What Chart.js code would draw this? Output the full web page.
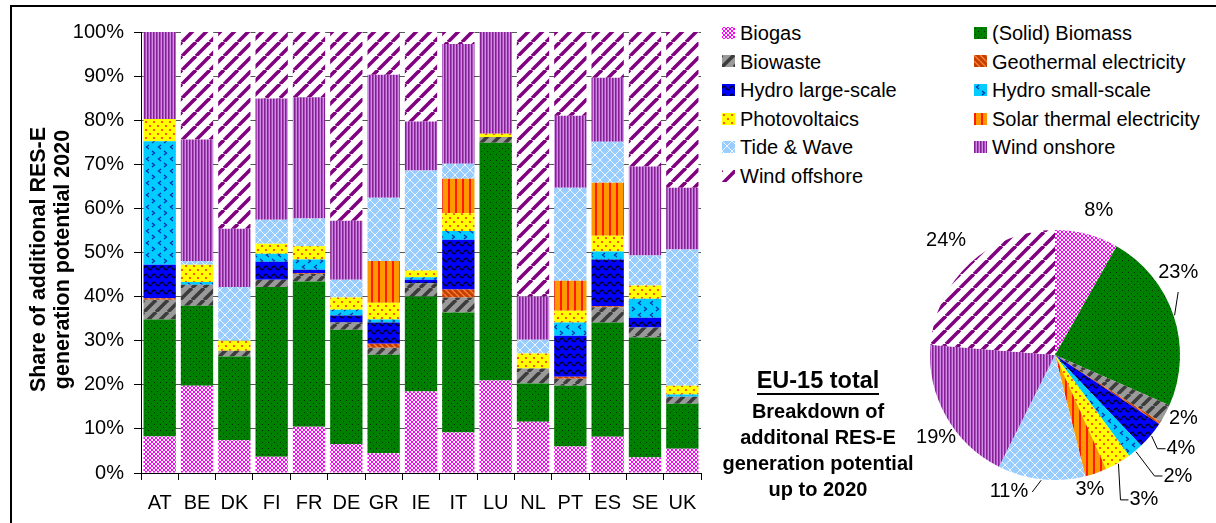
<!DOCTYPE html>
<html>
<head>
<meta charset="utf-8">
<script src="https://cdn.jsdelivr.net/npm/chart.js@4.4.1/dist/chart.umd.min.js"></script>
<style>
html,body{margin:0;padding:0;background:#fff;width:1216px;height:523px;overflow:hidden;font-family:"Liberation Sans",Arial,sans-serif;color:#000;}
#frame{position:absolute;left:10px;top:5px;width:1260px;height:560px;border:2px solid #000;box-sizing:border-box;}
#bar{position:absolute;left:0;top:0;}
#pie{position:absolute;left:890px;top:190px;}
.li{position:absolute;font-size:20px;line-height:22px;white-space:nowrap;}
.sw{position:absolute;}
#eu{position:absolute;left:688px;width:260px;top:367px;text-align:center;font-weight:bold;font-size:23.5px;line-height:26px;}
#eu span{display:inline-block;border-bottom:2px solid #000;}
#sub{position:absolute;left:688px;width:260px;top:398px;text-align:center;font-weight:bold;font-size:20px;line-height:26px;}
</style>
</head>
<body>
<div id="frame"></div>
<canvas id="bar" width="715" height="523"></canvas>
<div id="legend"></div>
<canvas id="pie" width="326" height="333"></canvas>
<div id="eu"></div>
<div id="sub"></div>
<script>
// ---------------- DATA ----------------
const countries = ['AT','BE','DK','FI','FR','DE','GR','IE','IT','LU','NL','PT','ES','SE','UK'];
const sources = ['Biogas','(Solid) Biomass','Biowaste','Geothermal electricity','Hydro large-scale','Hydro small-scale','Photovoltaics','Solar thermal electricity','Tide & Wave','Wind onshore','Wind offshore'];
const biogas       = [8.3,19.8,7.4,3.7,10.5,6.6,4.5,18.5,9.2,21.0,11.6,6.0,8.2,3.5,5.5];
const biomass      = [26.5,18.1,19.0,38.5,32.9,25.9,22.3,21.5,27.2,53.9,8.7,13.8,25.9,27.2,10.2];
const biowaste     = [4.5,4.8,1.3,1.6,1.7,1.6,1.6,3.0,3.4,1.3,3.4,1.6,3.5,2.3,1.6];
const geothermal   = [0.3,0,0,0,0.2,0,0.9,0,1.8,0,0,0.4,0.2,0,0];
const hydroLarge   = [7.6,0,0,4.1,0.8,1.6,4.8,0.8,11.3,0,0,9.3,10.6,2.2,0];
const hydroSmall   = [28.0,0.6,0,1.8,2.3,1.3,0.7,0.6,2.0,0,0,3.0,1.8,4.3,0.5];
const photovoltaics= [5.1,3.9,2.3,2.3,3.0,2.8,3.8,1.5,4.0,0.7,3.4,2.7,3.6,3.0,2.0];
const solarThermal = [0,0,0,0,0,0,9.5,0,7.8,0,0,6.8,12.0,0,0];
const tideWave     = [0,0.9,12.2,5.4,6.3,4.0,14.3,22.7,3.4,0,3.1,21.1,9.3,6.8,30.9];
const windOnshore  = [19.7,27.5,13.2,27.5,27.5,13.4,27.9,11.1,27.2,23.1,9.8,16.3,14.5,20.2,14.0];
const windOffshore = [0,24.4,44.6,15.1,14.8,42.8,9.7,20.3,2.7,0,60.0,19.0,10.4,30.5,35.3];
const eu15Total    = [8.2,23.4,2.4,0.3,3.6,2.0,3.4,2.8,11.3,18.9,23.7];
const yTicks = [0,10,20,30,40,50,60,70,80,90,100];
const yTitle = ['Share of additional RES-E','generation potential 2020'];
const boxTitle = 'EU-15 total';
const boxText = ['Breakdown of','additonal RES-E','generation potential','up to 2020'];

const seriesValues = [biogas,biomass,biowaste,geothermal,hydroLarge,hydroSmall,photovoltaics,solarThermal,tideWave,windOnshore,windOffshore];

// ---------------- STYLE ----------------
const FONT = '"Liberation Sans", Arial, sans-serif';
Chart.defaults.font.family = FONT;
Chart.defaults.color = '#000';

function tile(w,h,fn){const c=document.createElement('canvas');c.width=w;c.height=h;const g=c.getContext('2d');fn(g,w,h);return c;}
function slash(g,s){for(const o of [-s,0,s]){g.beginPath();g.moveTo(o,s);g.lineTo(o+s,0);g.stroke();}}
function backslash(g,s){for(const o of [-s,0,s]){g.beginPath();g.moveTo(o,0);g.lineTo(o+s,s);g.stroke();}}
const tiles = [
  // Biogas
  tile(4,4,g=>{g.fillStyle='#ff00ff';g.fillRect(0,0,4,4);g.fillStyle='#ffffff';for(let i=0;i<4;i++){g.fillRect(i,i,1,1);g.fillRect(3-i,i,1,1);}}),
  // Biomass
  tile(6,6,g=>{g.fillStyle='#008000';g.fillRect(0,0,6,6);g.fillStyle='#002a00';g.fillRect(1,1,1,1);g.fillRect(4,4,1,1);}),
  // Biowaste
  tile(12,12,g=>{g.fillStyle='#9a9a9a';g.fillRect(0,0,12,12);g.strokeStyle='#3c3c3c';g.lineWidth=3.5;slash(g,12);}),
  // Geothermal
  tile(6,6,g=>{g.fillStyle='#c04000';g.fillRect(0,0,6,6);g.strokeStyle='#ff7a33';g.lineWidth=1.5;backslash(g,6);}),
  // Hydro large
  tile(8,8,g=>{g.fillStyle='#0000ff';g.fillRect(0,0,8,8);g.strokeStyle='#000022';g.lineWidth=1.4;g.beginPath();for(let x=0;x<=8;x+=0.5){const y=4-1.8*Math.sin(2*Math.PI*x/8);x===0?g.moveTo(x,y):g.lineTo(x,y);}g.stroke();}),
  // Hydro small
  tile(12,12,g=>{g.fillStyle='#00ccff';g.fillRect(0,0,12,12);g.strokeStyle='#0030b0';g.lineWidth=1.3;g.beginPath();g.moveTo(5,1);g.lineTo(2.5,3);g.lineTo(5,5);g.moveTo(8,7);g.lineTo(10.5,9);g.lineTo(8,11);g.stroke();}),
  // Photovoltaics
  tile(8,8,g=>{g.fillStyle='#ffff00';g.fillRect(0,0,8,8);g.fillStyle='#ff3300';for(const [x,y] of [[2,2],[6,6]]){g.beginPath();g.arc(x,y,1.1,0,Math.PI*2);g.fill();}}),
  // Solar thermal
  tile(7,2,g=>{g.fillStyle='#ff9900';g.fillRect(0,0,7,2);g.fillStyle='#ff1a00';g.fillRect(0,0,2,2);}),
  // Tide & Wave
  tile(10,10,g=>{g.fillStyle='#99ccff';g.fillRect(0,0,10,10);g.fillStyle='#eef6ff';for(let i=0;i<10;i++){g.fillRect(i,i,1,1);g.fillRect(9-i,i,1,1);}}),
  // Wind onshore
  tile(3,2,g=>{g.fillStyle='#84208f';g.fillRect(0,0,1,2);g.fillStyle='#a94cc0';g.fillRect(1,0,1,2);g.fillStyle='#cf8de3';g.fillRect(2,0,1,2);}),
  // Wind offshore
  tile(14,14,g=>{g.fillStyle='#ffffff';g.fillRect(0,0,14,14);g.strokeStyle='#800080';g.lineWidth=3.6;slash(g,14);})
];
function patternsFor(ctx){return tiles.map(t=>ctx.createPattern(t,'repeat'));}

// ---------------- BAR CHART ----------------
const yTitlePlugin = {
  id:'ytitle',
  afterDraw(chart){
    const ctx=chart.ctx, s=chart.scales.y;
    ctx.save();
    ctx.fillStyle='#000';
    ctx.font='bold 21.5px '+FONT;
    ctx.textAlign='center';
    ctx.textBaseline='alphabetic';
    const cy=(s.top+s.bottom)/2+7;
    yTitle.forEach((t,i)=>{
      ctx.save();
      ctx.translate(45+24*i, cy);
      ctx.rotate(-Math.PI/2);
      ctx.fillText(t,0,0);
      ctx.restore();
    });
    ctx.restore();
  }
};

const barCanvas=document.getElementById('bar');
const barPats=patternsFor(barCanvas.getContext('2d'));
const barChart=new Chart(barCanvas,{
  type:'bar',
  data:{
    labels:countries,
    datasets:sources.map((s,i)=>({label:s,data:seriesValues[i],backgroundColor:barPats[i],borderWidth:0,categoryPercentage:0.866,barPercentage:1}))
  },
  options:{
    responsive:false,animation:false,devicePixelRatio:1,
    layout:{padding:{left:0,top:32,right:14,bottom:0}},
    plugins:{legend:{display:false},tooltip:{enabled:false}},
    scales:{
      x:{
        stacked:true,
        grid:{display:true,drawOnChartArea:false,drawTicks:true,tickLength:7,tickColor:'#000',color:'#000',offset:true},
        border:{color:'#000',width:1},
        ticks:{color:'#000',font:{size:20},padding:11,maxRotation:0,autoSkip:false},
        afterFit(s){s.height=50;}
      },
      y:{
        stacked:true,min:0,max:100,
        afterBuildTicks(s){s.ticks=yTicks.map(v=>({value:v}));},
        ticks:{callback:v=>v+'%',color:'#000',font:{size:20},padding:10},
        grid:{color:c=>c.tick&&c.tick.value===0?'#000':'#555',tickColor:'#000',tickLength:7,lineWidth:1},
        border:{color:'#000',width:1},
        afterFit(s){s.width=141;}
      }
    }
  },
  plugins:[yTitlePlugin]
});

// ---------------- LEGEND ----------------
const legend=document.getElementById('legend');
const legendCols=[{sw:722,tx:740},{sw:974,tx:992}];
const legendTop=32.8, legendStep=28.6;
sources.forEach((s,i)=>{
  const col=legendCols[i%2], row=Math.floor(i/2);
  const cy=legendTop+row*legendStep;
  const c=document.createElement('canvas');
  c.width=13;c.height=12;c.className='sw';
  c.style.left=col.sw+'px';c.style.top=(cy-6)+'px';
  const g=c.getContext('2d');g.fillStyle=g.createPattern(tiles[i],'repeat');g.fillRect(0,0,13,12);
  legend.appendChild(c);
  const d=document.createElement('div');
  d.className='li';d.textContent=s;
  d.style.left=col.tx+'px';d.style.top=(cy-10.8)+'px';
  legend.appendChild(d);
});

// ---------------- TEXT BOX ----------------
const eu=document.getElementById('eu');
const sp=document.createElement('span');sp.textContent=boxTitle;eu.appendChild(sp);
const sub=document.getElementById('sub');
boxText.forEach((t,i)=>{if(i)sub.appendChild(document.createElement('br'));sub.appendChild(document.createTextNode(t));});

// ---------------- PIE ----------------
// label placement: angle nudge (deg) and distance beyond the rim (px), optional leader style
const pieLabelLayout=[
  {da:2.1,dr:26},
  {da:-15.3,dr:23,leader:'up'},
  {da:-1.9,dr:18},
  null,
  {da:-3.3,dr:32,leader:'left'},
  {da:-5.5,dr:47.5,leader:'left'},
  {da:-1.3,dr:45,leader:'left'},
  {da:4.5,dr:13.5},
  {da:12.4,dr:18.6,leader:'right'},
  {da:-5.3,dr:19.5},
  {da:-0.8,dr:33.4}
];
const pieLabelPlugin={
  id:'pielabels',
  afterDraw(chart){
    const ctx=chart.ctx, meta=chart.getDatasetMeta(0);
    ctx.save();
    ctx.font='20px '+FONT;ctx.fillStyle='#000';ctx.strokeStyle='#000';ctx.lineWidth=1;
    ctx.textAlign='center';ctx.textBaseline='middle';
    meta.data.forEach((arc,i)=>{
      const v=eu15Total[i], L=pieLabelLayout[i];
      if(!L||v<1)return;
      const mid=(arc.startAngle+arc.endAngle)/2;
      const a=mid+L.da*Math.PI/180, d=arc.outerRadius+L.dr;
      const lx=arc.x+Math.cos(a)*d, ly=arc.y+Math.sin(a)*d;
      const text=Math.round(v)+'%';
      ctx.fillText(text,lx,ly);
      if(L.leader){
        const w=ctx.measureText(text).width;
        const ex=arc.x+Math.cos(mid)*(arc.outerRadius+1), ey=arc.y+Math.sin(mid)*(arc.outerRadius+1);
        ctx.beginPath();ctx.moveTo(ex,ey);
        if(L.leader==='up'){ctx.lineTo(lx,ly+19);}
        else if(L.leader==='left'){ctx.lineTo(lx-w/2-9,ly);ctx.lineTo(lx-w/2-1,ly);}
        else if(L.leader==='right'){ctx.lineTo(lx+w/2+4,ly+1);}
        ctx.stroke();
      }
    });
    ctx.restore();
  }
};
const pieCanvas=document.getElementById('pie');
const piePats=patternsFor(pieCanvas.getContext('2d'));
new Chart(pieCanvas,{
  type:'pie',
  data:{labels:sources,datasets:[{data:eu15Total,backgroundColor:piePats,borderWidth:0}]},
  options:{
    responsive:false,animation:false,devicePixelRatio:1,
    layout:{padding:{left:40,right:36,top:40,bottom:43}},
    plugins:{legend:{display:false},tooltip:{enabled:false}}
  },
  plugins:[pieLabelPlugin]
});
</script>
</body>
</html>
